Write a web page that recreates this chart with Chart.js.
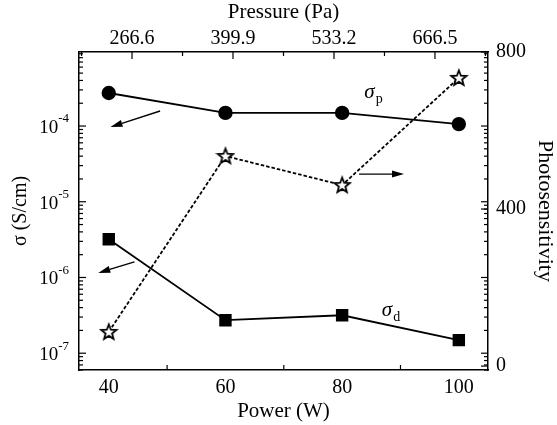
<!DOCTYPE html>
<html>
<head>
<meta charset="utf-8">
<script src="https://cdn.jsdelivr.net/npm/chart.js@4"></script>
<style>
  body { margin: 0; background: #fff; }
  #wrap { width: 557px; height: 425px; }
</style>
</head>
<body>
<div id="wrap"><canvas id="chart" width="557" height="425"></canvas></div>
<script>
// measured values
const power = [40, 60, 80, 100];
const sigmaP = [2.73e-4, 1.49e-4, 1.49e-4, 1.06e-4];
const sigmaD = [3.2e-6, 2.73e-7, 3.17e-7, 1.49e-7];
const photo = [87, 535, 461, 734];

// axis ticks
const powerTicks = [40, 60, 80, 100];
const pressureTicks = [266.6, 399.9, 533.2, 666.5];
const sigmaTicks = [1e-7, 1e-6, 1e-5, 1e-4];
const photoTicks = [0, 400, 800];

const SERIF = "'Liberation Serif', 'Times New Roman', serif";

// open five-point star used as point style
function makeStar() {
    const c = document.createElement('canvas');
    c.width = 20; c.height = 20;
    const g = c.getContext('2d');
    g.beginPath();
    for (let i = 0; i < 10; i++) {
        const r = i % 2 === 0 ? 8 : 3.4;
        const a = -Math.PI / 2 + i * Math.PI / 5;
        const px = 10 + r * Math.cos(a), py = 10.5 + r * Math.sin(a);
        if (i === 0) g.moveTo(px, py); else g.lineTo(px, py);
    }
    g.closePath();
    g.fillStyle = '#fff';
    g.fill();
    g.lineWidth = 1.8;
    g.strokeStyle = '#000';
    g.stroke();
    return c;
}

// arrows pointing to the axis each curve belongs to
const arrows = [
    { from: [48.8, 1.58e-4], to: [40.3, 9.7e-5], y: 'y' },
    { from: [44.4, 1.61e-6], to: [38.2, 1.15e-6], y: 'y' },
    { from: [82.9, 489], to: [90.6, 489], y: 'y2' }
];
const curveLabels = [
    { text: 'σ', sub: 'p', at: [83.8, 2.81e-4] },
    { text: 'σ', sub: 'd', at: [86.8, 3.7e-7] }
];

function line(ctx, x1, y1, x2, y2) {
    ctx.beginPath();
    ctx.moveTo(x1, y1);
    ctx.lineTo(x2, y2);
    ctx.stroke();
}

const decorPlugin = {
    id: 'decor',
    beforeDraw(chart) {
        const ctx = chart.ctx;
        ctx.save();
        ctx.fillStyle = '#fff';
        ctx.fillRect(0, 0, chart.width, chart.height);
        ctx.restore();
    },
    afterDraw(chart) {
        const { ctx, chartArea: a, scales } = chart;
        ctx.save();
        ctx.strokeStyle = '#000';
        ctx.fillStyle = '#000';
        ctx.lineWidth = 1.2;

        // log ticks on left, mirrored on right
        const ys = scales.y;
        for (let e = -8; e <= -3; e++) {
            for (let m = 1; m <= 9; m++) {
                const v = m * Math.pow(10, e);
                if (v < ys.min || v > ys.max) continue;
                const py = ys.getPixelForValue(v);
                const len = m === 1 ? 7 : 4;
                line(ctx, a.left, py, a.left + len, py);
                line(ctx, a.right, py, a.right - len, py);
            }
        }
        // right axis majors
        const y2 = scales.y2;
        photoTicks.forEach(v => {
            const py = y2.getPixelForValue(v);
            line(ctx, a.right, py, a.right - 7, py);
        });
        // bottom minor ticks
        const xs = scales.x;
        [50, 70, 90].forEach(v => {
            const px = xs.getPixelForValue(v);
            line(ctx, px, a.bottom, px, a.bottom - 5);
        });
        // top pressure ticks
        const x2 = scales.x2;
        for (let k = -1; k <= 7; k++) {
            const v = 266.6 + k * 66.65;
            if (v < x2.min || v > x2.max) continue;
            const px = x2.getPixelForValue(v);
            line(ctx, px, a.top, px, a.top + (k % 2 === 0 ? 7 : 4));
        }

        // 10^n labels for the log axis
        ctx.textBaseline = 'middle';
        sigmaTicks.forEach(v => {
            const py = ys.getPixelForValue(v);
            const exp = String(Math.round(Math.log10(v)));
            ctx.font = '19px ' + SERIF;
            const wBase = ctx.measureText('10').width;
            ctx.font = '13px ' + SERIF;
            const wExp = ctx.measureText(exp).width;
            const right = a.left - 10;
            ctx.font = '19px ' + SERIF;
            ctx.textAlign = 'left';
            ctx.fillText('10', right - wExp - wBase, py + 2);
            ctx.font = '13px ' + SERIF;
            ctx.fillText(exp, right - wExp, py - 7);
        });

        // arrows
        ctx.lineWidth = 1.4;
        arrows.forEach(ar => {
            const sy = scales[ar.y];
            const x1 = xs.getPixelForValue(ar.from[0]), y1 = sy.getPixelForValue(ar.from[1]);
            const x2p = xs.getPixelForValue(ar.to[0]), y2p = sy.getPixelForValue(ar.to[1]);
            const ang = Math.atan2(y2p - y1, x2p - x1);
            const hl = 12, hw = 3.5;
            const bx = x2p - hl * Math.cos(ang), by = y2p - hl * Math.sin(ang);
            line(ctx, x1, y1, bx, by);
            ctx.beginPath();
            ctx.moveTo(x2p, y2p);
            ctx.lineTo(bx + hw * Math.sin(ang), by - hw * Math.cos(ang));
            ctx.lineTo(bx - hw * Math.sin(ang), by + hw * Math.cos(ang));
            ctx.closePath();
            ctx.fill();
        });

        // curve names
        curveLabels.forEach(l => {
            const px = xs.getPixelForValue(l.at[0]), py = ys.getPixelForValue(l.at[1]);
            ctx.textAlign = 'left';
            ctx.font = 'italic 21px ' + SERIF;
            ctx.fillText(l.text, px, py);
            const w = ctx.measureText(l.text).width;
            ctx.font = '14px ' + SERIF;
            ctx.fillText(l.sub, px + w + 1, py + 7);
        });
        ctx.restore();
    }
};

const tickFont = { family: SERIF, size: 20 };
const titleFont = { family: SERIF, size: 21 };
const border = { display: true, color: '#000', width: 1.5 };

new Chart(document.getElementById('chart'), {
    type: 'line',
    data: {
        datasets: [
            {
                label: 'σp',
                data: power.map((p, i) => ({ x: p, y: sigmaP[i] })),
                yAxisID: 'y',
                borderColor: '#000',
                backgroundColor: '#000',
                borderWidth: 1.8,
                pointStyle: 'circle',
                pointRadius: 6.3,
                tension: 0
            },
            {
                label: 'σd',
                data: power.map((p, i) => ({ x: p, y: sigmaD[i] })),
                yAxisID: 'y',
                borderColor: '#000',
                backgroundColor: '#000',
                borderWidth: 1.8,
                pointStyle: 'rect',
                pointRadius: 7.5,
                tension: 0
            },
            {
                label: 'Photosensitivity',
                data: power.map((p, i) => ({ x: p, y: photo[i] })),
                yAxisID: 'y2',
                borderColor: '#000',
                borderWidth: 1.8,
                borderDash: [3.5, 2],
                pointStyle: makeStar(),
                tension: 0
            }
        ]
    },
    options: {
        responsive: false,
        animation: false,
        layout: { padding: 0 },
        plugins: {
            legend: { display: false },
            tooltip: { enabled: false }
        },
        scales: {
            x: {
                type: 'linear',
                position: 'bottom',
                min: 34.9,
                max: 105,
                afterBuildTicks: s => { s.ticks = powerTicks.map(v => ({ value: v })); },
                afterFit: s => { s.height = 55; },
                grid: { display: false, drawTicks: false },
                border: border,
                ticks: { font: tickFont, color: '#000', padding: 6 },
                title: { display: true, text: 'Power (W)', font: titleFont, color: '#000', padding: { top: 0, bottom: 1 } }
            },
            x2: {
                type: 'linear',
                position: 'top',
                min: 196.6,
                max: 736.5,
                afterBuildTicks: s => { s.ticks = pressureTicks.map(v => ({ value: v })); },
                afterFit: s => { s.height = 52; },
                grid: { display: false, drawTicks: false },
                border: border,
                ticks: { font: tickFont, color: '#000', padding: 1, callback: v => v.toFixed(1) },
                title: { display: true, text: 'Pressure (Pa)', font: titleFont, color: '#000', padding: { top: 0, bottom: 0 } }
            },
            y: {
                type: 'logarithmic',
                position: 'left',
                min: 6e-8,
                max: 9.5e-4,
                afterFit: s => { s.width = 79; },
                grid: { display: false, drawTicks: false },
                border: border,
                ticks: { display: false },
                title: { display: true, text: 'σ (S/cm)', font: { family: SERIF, size: 20 }, color: '#000', padding: { top: 9, bottom: 0 } }
            },
            y2: {
                type: 'linear',
                position: 'right',
                min: -10,
                max: 800,
                afterBuildTicks: s => { s.ticks = photoTicks.map(v => ({ value: v })); },
                afterFit: s => { s.width = 69; },
                grid: { display: false, drawTicks: false },
                border: border,
                ticks: { font: tickFont, color: '#000', padding: 8 },
                title: { display: true, text: 'Photosensitivity', font: { family: SERIF, size: 22 }, color: '#000', padding: { top: -1, bottom: 0 } }
            }
        }
    },
    plugins: [decorPlugin]
});
</script>
</body>
</html>
